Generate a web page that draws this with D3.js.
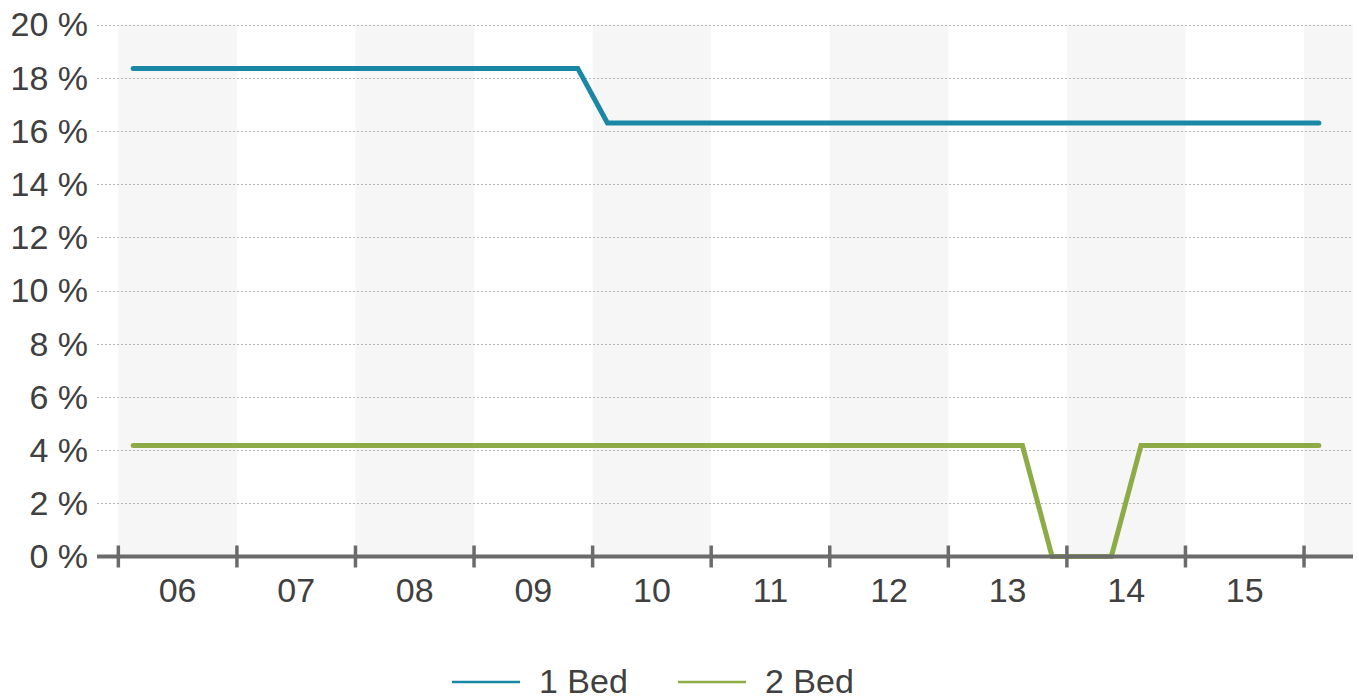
<!DOCTYPE html>
<html>
<head>
<meta charset="utf-8">
<script src="https://cdn.jsdelivr.net/npm/d3@7"></script>
<style>
  html, body { margin: 0; padding: 0; background: #fff; }
  svg { display: block; font-family: "Liberation Sans", Arial, sans-serif; }
</style>
</head>
<body>
<div id="chart"></div>
<script>
// Data
const quarters = [
  "2006-Q1","2006-Q2","2006-Q3","2006-Q4",
  "2007-Q1","2007-Q2","2007-Q3","2007-Q4",
  "2008-Q1","2008-Q2","2008-Q3","2008-Q4",
  "2009-Q1","2009-Q2","2009-Q3","2009-Q4",
  "2010-Q1","2010-Q2","2010-Q3","2010-Q4",
  "2011-Q1","2011-Q2","2011-Q3","2011-Q4",
  "2012-Q1","2012-Q2","2012-Q3","2012-Q4",
  "2013-Q1","2013-Q2","2013-Q3","2013-Q4",
  "2014-Q1","2014-Q2","2014-Q3","2014-Q4",
  "2015-Q1","2015-Q2","2015-Q3","2015-Q4",
  "2016-Q1"
];
const oneBed = [
  18.35,18.35,18.35,18.35, 18.35,18.35,18.35,18.35,
  18.35,18.35,18.35,18.35, 18.35,18.35,18.35,18.35,
  16.3,16.3,16.3,16.3, 16.3,16.3,16.3,16.3,
  16.3,16.3,16.3,16.3, 16.3,16.3,16.3,16.3,
  16.3,16.3,16.3,16.3, 16.3,16.3,16.3,16.3,
  16.3
];
const twoBed = [
  4.17,4.17,4.17,4.17, 4.17,4.17,4.17,4.17,
  4.17,4.17,4.17,4.17, 4.17,4.17,4.17,4.17,
  4.17,4.17,4.17,4.17, 4.17,4.17,4.17,4.17,
  4.17,4.17,4.17,4.17, 4.17,4.17,4.17,0,
  0,0,4.17,4.17, 4.17,4.17,4.17,4.17,
  4.17
];
const years = [2006, 2007, 2008, 2009, 2010, 2011, 2012, 2013, 2014, 2015, 2016];
const yearLabels = ["06","07","08","09","10","11","12","13","14","15"];
const yTicks = [0, 2, 4, 6, 8, 10, 12, 14, 16, 18, 20];
const seriesNames = ["1 Bed", "2 Bed"];
const seriesColors = ["#1a87a5", "#8dac48"];

// Layout
const width = 1359, height = 698;
const textColor = "#404040";

// quarter label -> fractional year at middle of quarter
const qPos = (q) => {
  const [y, qq] = q.split("-Q");
  return +y + (+qq - 0.5) / 4;
};

const x = d3.scaleLinear()
  .domain([2005.82, 2016.413])
  .range([97, 1353]);
const y = d3.scaleLinear()
  .domain([0, 20])
  .range([556.5, 24.5]);

const svg = d3.select("#chart")
  .append("svg")
  .attr("width", width)
  .attr("height", height);

// alternating year bands
svg.append("g")
  .selectAll("rect")
  .data(years.filter((d, i) => i % 2 === 0))
  .join("rect")
  .attr("x", d => x(d))
  .attr("y", y(20))
  .attr("width", d => Math.min(x(d + 1), x.range()[1]) - x(d))
  .attr("height", y(0) - y(20))
  .attr("fill", "#f6f6f6");

// gridlines
svg.append("g")
  .selectAll("line")
  .data(yTicks.filter(d => d > 0))
  .join("line")
  .attr("x1", x.range()[0])
  .attr("x2", x.range()[1])
  .attr("y1", d => Math.round(y(d)) + 0.5)
  .attr("y2", d => Math.round(y(d)) + 0.5)
  .attr("stroke", "#b5b5b5")
  .attr("stroke-width", 1)
  .attr("stroke-dasharray", "2,2");

// y labels
svg.append("g")
  .selectAll("text")
  .data(yTicks)
  .join("text")
  .attr("x", 88)
  .attr("y", d => y(d))
  .attr("dy", "0.35em")
  .attr("text-anchor", "end")
  .attr("font-size", 34)
  .attr("fill", textColor)
  .text(d => d + " %");

// lines
const line = d3.line()
  .x((d, i) => x(qPos(quarters[i])))
  .y(d => y(d));

[oneBed, twoBed].forEach((s, i) => {
  svg.append("path")
    .datum(s)
    .attr("d", line)
    .attr("fill", "none")
    .attr("stroke", seriesColors[i])
    .attr("stroke-width", 5)
    .attr("stroke-linecap", "round")
    .attr("stroke-linejoin", "miter");
});

// x axis
const axisColor = "#6b6b6b";
svg.append("line")
  .attr("x1", x.range()[0])
  .attr("x2", x.range()[1])
  .attr("y1", y(0))
  .attr("y2", y(0))
  .attr("stroke", axisColor)
  .attr("stroke-width", 4);

svg.append("g")
  .selectAll("line")
  .data(years)
  .join("line")
  .attr("x1", d => x(d))
  .attr("x2", d => x(d))
  .attr("y1", y(0) - 11)
  .attr("y2", y(0) + 11)
  .attr("stroke", axisColor)
  .attr("stroke-width", 3.5);

svg.append("g")
  .selectAll("text")
  .data(yearLabels)
  .join("text")
  .attr("x", (d, i) => x(years[i] + 0.5))
  .attr("y", 602)
  .attr("text-anchor", "middle")
  .attr("font-size", 34)
  .attr("fill", textColor)
  .text(d => d);

// legend
const legendX = [452, 678];
const legend = svg.append("g")
  .selectAll("g")
  .data(seriesNames)
  .join("g")
  .attr("transform", (d, i) => `translate(${legendX[i]},682)`);

legend.append("line")
  .attr("x1", 0)
  .attr("x2", 68)
  .attr("stroke", (d, i) => seriesColors[i])
  .attr("stroke-width", 2.5);

legend.append("text")
  .attr("x", 87)
  .attr("y", 11)
  .attr("font-size", 34)
  .attr("fill", textColor)
  .text(d => d);
</script>
</body>
</html>
